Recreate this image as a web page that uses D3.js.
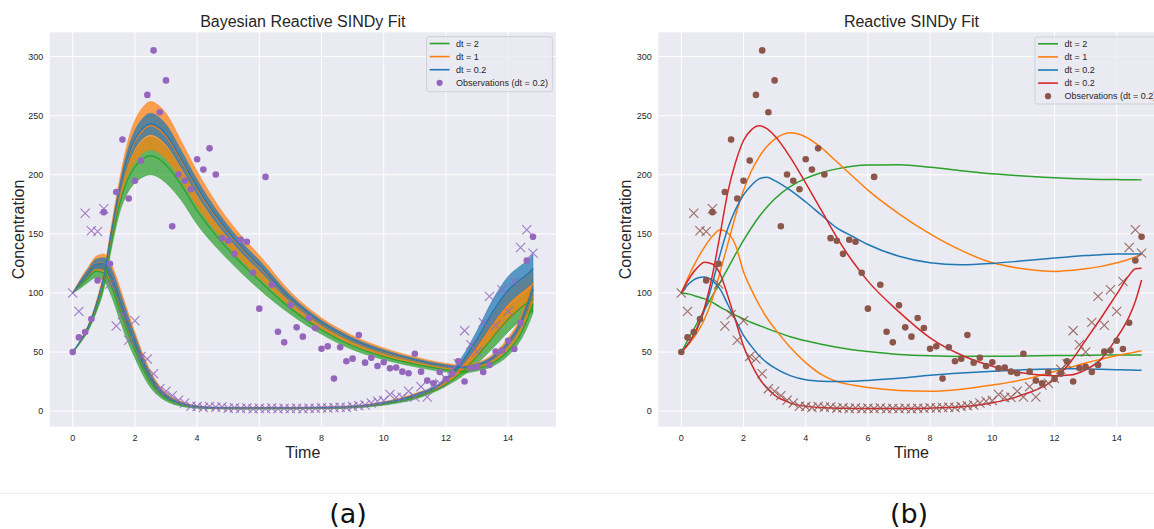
<!DOCTYPE html>
<html><head><meta charset="utf-8">
<script src="https://cdn.jsdelivr.net/npm/d3@7/dist/d3.min.js"></script>
<style>body{margin:0;background:#fff;} svg{display:block;}</style>
</head><body><svg id="c" width="1154" height="529"></svg>
<script>
// ---------- DATA ----------
const T = [0,0.25,0.5,0.75,1,1.25,1.5,1.75,2,2.25,2.5,2.75,3,3.5,4,4.5,5,5.5,6,7,8,9,10,11,12,12.5,13,13.5,14,14.4,14.6,14.8];

// Observations (dt = 0.2)
const obsTime = [0,0.2,0.4,0.6,0.8,1,1.2,1.4,1.6,1.8,2,2.2,2.4,2.6,2.8,3,3.2,3.4,3.6,3.8,4,4.2,4.4,4.6,4.8,5,5.2,5.4,5.6,5.8,6,6.2,6.4,6.6,6.8,7,7.2,7.4,7.6,7.8,8,8.2,8.4,8.6,8.8,9,9.2,9.4,9.6,9.8,10,10.2,10.4,10.6,10.8,11,11.2,11.4,11.6,11.8,12,12.2,12.4,12.6,12.8,13,13.2,13.4,13.6,13.8,14,14.2,14.4,14.6,14.8];
const obsA = [100,84.4,167.5,152.6,152,171.2,107.5,72,81.6,59.9,76.5,46.3,44.1,31.7,19,16.8,13.1,9.2,6.9,4.1,3.8,3.1,3.9,3.2,3.5,2.5,2.9,2.2,2.6,2,2.4,2.1,2.6,2,2.3,2.1,2.4,2,2.5,2.3,2.8,2.6,3.1,3.3,3,3.8,4.6,5.2,6.8,8.4,8.9,14,11.5,11.7,16.8,12,20.7,12,22,23.6,27.5,35.4,40,68.1,56.2,50,75.1,97.1,72.6,102.7,84.4,109.8,138.5,153.5,133.7];
const obsB = [50,62.4,66.9,77.9,110.6,168.4,124.7,185.5,229.8,179.9,194.9,212,267.6,305.3,252.9,279.9,156.5,200.2,194.9,187.8,213.2,204.4,222.4,200.2,146.4,144.2,133.1,145,143.3,117.1,86.7,198.2,106.9,67.2,58.2,89.5,70.9,63,78.8,70.3,52.8,54.8,27.5,54,42.2,44.4,64.4,41,45.2,38.2,41.3,36.2,36.8,33.4,32,48.6,33.4,25.8,23.6,33.1,27.2,31.7,42.2,25,36.5,37.4,33.1,39.1,50.3,51.2,59.6,52.6,74.8,127.5,147.5];

// Reactive SINDy fits (panel b)
const fitA_dt2  = [100,99,97,95,92,88,84.5,81,78,75,72.5,70,67.5,63,59.5,56.5,54,52,50.5,48,46.8,46.3,46.4,46.6,47,47.1,47.3,47.4,47.5,47.5,47.5,47.5];
const fitB_dt2  = [50,62,74,86,97.5,109,121,133,144.5,155,164.5,172.5,179.5,190,197,201.8,205,207.3,208.3,208.4,206.4,203.5,200.8,199,197.4,196.8,196.4,196.1,196,195.8,195.8,195.7];
const fitA_dt1  = [100,115,128,139,148,153.5,150.5,140,118,103,90,79,70,54,41,31,25,22,20,17.5,16.8,18.5,22,26.7,33.5,37,40.7,44,47,49,50,51];
const fitB_dt1  = [50,57,66,78,95,118,142,166,187,203,215,224,230,235.5,232,223,211,199,187,167,150,136,125.5,120.5,118.2,119,120.5,122.5,125.5,128.5,130.5,132.8];
const fitA_dt02 = [100,108,112.5,113.5,110.5,103,90,77,64,55,47,41,36.5,30,26.5,25.3,25,25.3,26,27.8,30.3,32.2,33.7,35,35.7,35.8,35.7,35.4,35,34.8,34.6,34.5];
const fitB_dt02 = [50,58,69,86,108,133,155,171,183,191,196.5,198,195,187,177,166,155,148,141,131,125.5,123.8,125,127.2,129.5,130.6,131.7,132.4,132.9,133,133,133];
const fitA_dt02b = [100,112,121,126,124.5,116,97,76,55,40,28,19.5,13.5,7,4,3,2.5,2.3,2.2,2.2,2.5,3.6,7,14,27,41,60,79,99,115,120.5,121];
const fitB_dt02b = [50,58,70,88,115,150,186,211,229,238,241.5,239,233,215,193,170,147,127,110,84,62,47.5,38,32.3,30,30.5,35,44,62,80,93,111];

// Bayesian posterior bands (panel a): lower / upper envelopes
const bandA_dt2_lo  = [100,104,109,113,110,97,78,60,45,31,20,13,8.5,4,2.5,2,1.8,1.8,1.8,1.8,2,2.6,5,10,21,29,40,53,67,77,81,84];
const bandA_dt2_hi  = [100,108.8,116.8,123.8,123.8,113.2,94.8,75.6,58.2,41.8,28.4,19,12.7,6.4,3.7,2.9,2.6,2.6,2.6,2.6,2.9,3.7,6.8,13,24.2,36.2,52.6,71.5,88.2,97.7,101.7,106];
const bandA_dt1_lo  = [100,106.6,113.3,118.9,117.6,105.9,87.2,68.6,52.3,36.9,24.6,16.3,10.8,5.3,3.2,2.5,2.3,2.3,2.3,2.3,2.5,3.2,6,11.7,22.4,32.2,45.6,61.2,76.4,86.2,90.2,93.8];
const bandA_dt1_hi  = [100,112,122,131,133,124,106,86,67,49,34,23,15.5,8,4.5,3.5,3.2,3.2,3.2,3.2,3.5,4.5,8,15,26.3,41,61,83.8,102.3,111.5,115.5,120.8];
const bandA_dt02_lo = [100,107.4,114.6,120.7,119.9,108.6,90,71.2,54.5,38.7,26,17.3,11.5,5.7,3.4,2.6,2.4,2.4,2.4,2.4,2.6,3.4,6.3,12.2,24.5,37,54,73.5,90.5,100,104,108.5];
const bandA_dt02_hi = [100,110.9,120.2,128.5,129.8,120.2,102.1,82.4,63.9,46.5,32,21.6,14.5,7.4,4.2,3.3,3,3,3,3,3.3,4.2,7.6,14.3,28,45,68,94,114,123,127,133];
const bandB_dt2_lo  = [50,58,68,83,103,138,167,184,193,198,200,198,193,178,158,142,128,115,103,82,65,52,43.5,37.5,33,32,34,38,47,60,70,83];
const bandB_dt2_hi  = [50,59,70.6,87.7,110.8,148.4,181.6,205.8,220.6,228.7,232.2,229.7,223.7,204,181.4,162.3,145.7,131.1,118.1,91.9,72.3,58.2,48.7,41.9,36.9,35.6,37.6,43.2,54.8,70.4,83,98.1];
const bandB_dt1_lo  = [50,58.7,69.7,86.1,108.1,144.8,176.5,198.3,211,218.1,221.1,218.7,213.1,195,173.3,155.3,139.6,125.5,112.9,88.5,69.8,56.1,46.9,40.4,35.6,34.4,36.4,41.4,52.1,66.8,78.5,92.9];
const bandB_dt1_hi  = [50,60,73,92,118,158,195,226,246,257,262,259,252,228,203,181,162,146,132,101,79,64,53.5,46,40.5,39,41,48,62,80,95,112];
const bandB_dt02_lo = [50,59.1,70.8,88,111.3,149,182.4,207.1,222.2,230.5,234.1,231.6,225.5,205.5,182.8,163.5,146.7,132,119,92.5,72.7,58.6,49,42.2,37.1,35.9,37.9,43.5,55.3,71,83.8,99];
const bandB_dt02_hi = [50,59.7,72.2,90.6,115.6,154.8,190.5,219.3,237.5,247.6,252.1,249.2,242.6,220,195.8,174.8,156.6,141,127.4,98,76.8,62.1,51.9,44.6,39.3,37.9,39.9,46.4,59.6,76.8,91,107.4];

const xTicks = [0,2,4,6,8,10,12,14];
const yTicks = [0,50,100,150,200,250,300];
const titles = ["Bayesian Reactive SINDy Fit", "Reactive SINDy Fit"];
const legendA = ["dt = 2", "dt = 1", "dt = 0.2", "Observations (dt = 0.2)"];
const legendB = ["dt = 2", "dt = 1", "dt = 0.2", "dt = 0.2", "Observations (dt = 0.2)"];
const captions = ["(a)", "(b)"];

// ---------- DRAW ----------
const C = {green:"#2ca02c", orange:"#ff7f0e", blue:"#1f77b4", red:"#d62728", purple:"#9467bd", brown:"#8c564b"};
const svg = d3.select("#c");
svg.append("rect").attr("width",1154).attr("height",529).attr("fill","#fff");
const FONT = "'Liberation Sans', Arial, Helvetica, sans-serif";
const TXT = "#262626";

function makePanel(idx, left, right, top, bottom, ylabelX) {
  const x = d3.scaleLinear().domain([-0.74, 15.54]).range([left, right]);
  const y = d3.scaleLinear().domain([-13.2, 320.6]).range([bottom, top]);
  const g = svg.append("g");
  const cid = "clip" + idx;
  g.append("clipPath").attr("id", cid).append("rect")
    .attr("x", left).attr("y", top).attr("width", right-left).attr("height", bottom-top);
  g.append("rect").attr("x", left).attr("y", top).attr("width", right-left).attr("height", bottom-top).attr("fill", "#EAEAF2");
  g.selectAll(".gx").data(xTicks).join("line")
    .attr("x1", d=>x(d)).attr("x2", d=>x(d)).attr("y1", top).attr("y2", bottom)
    .attr("stroke", "#fff").attr("stroke-width", 1);
  g.selectAll(".gy").data(yTicks).join("line")
    .attr("x1", left).attr("x2", right).attr("y1", d=>y(d)).attr("y2", d=>y(d))
    .attr("stroke", "#fff").attr("stroke-width", 1);
  g.selectAll(".tx").data(xTicks).join("text")
    .attr("x", d=>x(d)).attr("y", bottom + 14).attr("text-anchor", "middle")
    .attr("font-family", FONT).attr("font-size", 9).attr("fill", TXT).text(d=>d);
  g.selectAll(".ty").data(yTicks).join("text")
    .attr("x", left - 6.5).attr("y", d=>y(d) + 3.2).attr("text-anchor", "end")
    .attr("font-family", FONT).attr("font-size", 9).attr("fill", TXT).text(d=>d);
  g.append("text").attr("x", (left+right)/2).attr("y", 27).attr("text-anchor", "middle")
    .attr("font-family", FONT).attr("font-size", 16).attr("fill", TXT).text(titles[idx]);
  g.append("text").attr("x", (left+right)/2).attr("y", 457.5).attr("text-anchor", "middle")
    .attr("font-family", FONT).attr("font-size", 16).attr("fill", TXT).text("Time");
  g.append("text").attr("transform", `translate(${ylabelX},${(top+bottom)/2}) rotate(-90)`)
    .attr("text-anchor", "middle")
    .attr("font-family", FONT).attr("font-size", 16).attr("fill", TXT).text("Concentration");
  const plot = g.append("g").attr("clip-path", `url(#${cid})`);
  return {x, y, g, plot};
}

function drawObs(P, color) {
  const s = 4.6;
  P.plot.selectAll(".xm").data(obsA).join("path")
    .attr("d", (d,i)=>{const cx=P.x(obsTime[i]), cy=P.y(d);
      return `M${cx-s},${cy-s}L${cx+s},${cy+s}M${cx-s},${cy+s}L${cx+s},${cy-s}`;})
    .attr("stroke", color).attr("stroke-width", 1.1).attr("stroke-opacity", 0.85).attr("fill", "none");
  P.plot.selectAll(".dm").data(obsB).join("circle")
    .attr("cx", (d,i)=>P.x(obsTime[i])).attr("cy", d=>P.y(d)).attr("r", 3.3)
    .attr("fill", color);
}

function drawLegend(g, x0, y0, w, h, labels, colors, obsColor) {
  g.append("rect").attr("x", x0).attr("y", y0).attr("width", w).attr("height", h).attr("rx", 2.5)
    .attr("fill", "#EAEAF2").attr("fill-opacity", 0.8).attr("stroke", "#cfcfd6").attr("stroke-width", 1);
  labels.forEach((lab, i) => {
    const cy = y0 + 6.8 + i * 13.1;
    if (i < colors.length) {
      g.append("line").attr("x1", x0 + 3).attr("x2", x0 + 23).attr("y1", cy).attr("y2", cy)
        .attr("stroke", colors[i]).attr("stroke-width", 1.6);
    } else {
      g.append("circle").attr("cx", x0 + 13).attr("cy", cy).attr("r", 3.1).attr("fill", obsColor);
    }
    g.append("text").attr("x", x0 + 29.5).attr("y", cy + 3.2)
      .attr("font-family", FONT).attr("font-size", 9).attr("fill", TXT).text(lab);
  });
}

// Panel (a)
const PA = makePanel(0, 49.7, 556, 32.3, 426.7, 23.5);
const bands = [
  {lo: bandA_dt2_lo, hi: bandA_dt2_hi, c: C.green, op: 0.72},
  {lo: bandB_dt2_lo, hi: bandB_dt2_hi, c: C.green, op: 0.72},
  {lo: bandA_dt1_lo, hi: bandA_dt1_hi, c: C.orange, op: 0.72},
  {lo: bandB_dt1_lo, hi: bandB_dt1_hi, c: C.orange, op: 0.72},
  {lo: bandA_dt02_lo, hi: bandA_dt02_hi, c: C.blue, op: 0.72},
  {lo: bandB_dt02_lo, hi: bandB_dt02_hi, c: C.blue, op: 0.72}
];
const area = (lo, hi) => d3.area().x((d,i)=>PA.x(T[i])).y0((d,i)=>PA.y(lo[i])).y1((d,i)=>PA.y(hi[i])).curve(d3.curveMonotoneX)(T);
const lineA = (arr) => d3.line().x((d,i)=>PA.x(T[i])).y((d,i)=>PA.y(arr[i])).curve(d3.curveMonotoneX)(T);
bands.forEach(b => {
  PA.plot.append("path").attr("d", area(b.lo, b.hi)).attr("fill", b.c).attr("fill-opacity", b.op)
    .attr("stroke", b.c).attr("stroke-opacity", 0.55).attr("stroke-width", 0.8);
});
bands.forEach(b => {
  const mid = b.lo.map((v,i)=>(v + b.hi[i]) / 2);
  PA.plot.append("path").attr("d", lineA(mid)).attr("fill", "none")
    .attr("stroke", b.c).attr("stroke-width", 1.3).attr("stroke-opacity", 0.95);
});
drawObs(PA, C.purple);
drawLegend(PA.g, 426.6, 36.7, 125.8, 55, legendA, [C.green, C.orange, C.blue], C.purple);

// Panel (b)
const PB = makePanel(1, 658.3, 1164.6, 32.3, 426.7, 631);
const fits = [
  {d: fitA_dt2, c: C.green}, {d: fitB_dt2, c: C.green},
  {d: fitA_dt1, c: C.orange}, {d: fitB_dt1, c: C.orange},
  {d: fitA_dt02, c: C.blue}, {d: fitB_dt02, c: C.blue},
  {d: fitA_dt02b, c: C.red}, {d: fitB_dt02b, c: C.red}
];
fits.forEach(f => {
  PB.plot.append("path")
    .attr("d", d3.line().x((d,i)=>PB.x(T[i])).y((d,i)=>PB.y(f.d[i])).curve(d3.curveMonotoneX)(T))
    .attr("fill", "none").attr("stroke", f.c).attr("stroke-width", 1.5);
});
drawObs(PB, C.brown);
drawLegend(PB.g, 1035, 37, 150, 67, legendB, [C.green, C.orange, C.blue, C.red], C.brown);

// Separator and captions
svg.append("line").attr("x1", 0).attr("x2", 1154).attr("y1", 493.3).attr("y2", 493.3)
  .attr("stroke", "#ebebeb").attr("stroke-width", 1);
svg.selectAll(".cap").data(captions).join("text")
  .attr("x", (d,i)=> i === 0 ? 348 : 909).attr("y", 523)
  .attr("text-anchor", "middle").attr("font-family", "'DejaVu Sans', sans-serif")
  .attr("font-size", 27).attr("fill", "#111").text(d=>d);
</script>
</body></html>
